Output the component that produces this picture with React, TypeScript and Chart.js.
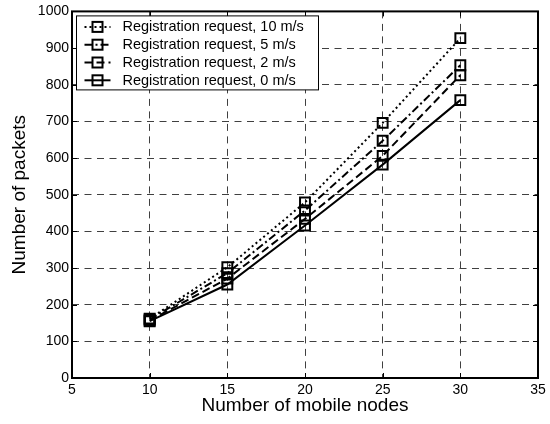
import React, { useEffect, useRef } from "react";
import { Chart, registerables } from "chart.js";

Chart.register(...registerables);

const nodes = [10, 15, 20, 25, 30];
const req10 = [162, 302, 479, 696, 927];
const req5 = [160, 286, 457, 647, 853];
const req2 = [157, 271, 434, 606, 826];
const req0 = [155, 255, 416, 582, 758];

const seriesLabels = [
  "Registration request, 10 m/s",
  "Registration request, 5 m/s",
  "Registration request, 2 m/s",
  "Registration request, 0 m/s",
];
const seriesDashes: number[][] = [[2, 3], [8, 3, 2, 3], [8, 4], []];

const xTitle = "Number of mobile nodes";
const yTitle = "Number of packets";

const FONT = "'Liberation Sans', Arial, Helvetica, sans-serif";

const framePlugin = {
  id: "matlabFrame",
  afterDraw(chart: any) {
    const ctx = chart.ctx;
    const { left, right, top, bottom } = chart.chartArea;
    const xs = chart.scales.x;
    const ys = chart.scales.y;
    ctx.save();
    ctx.strokeStyle = "#000";
    ctx.lineWidth = 1;
    ctx.setLineDash([]);
    const tl = 5;
    xs.ticks.forEach((t: any) => {
      const px = Math.round(xs.getPixelForValue(t.value)) + 0.5;
      ctx.beginPath();
      ctx.moveTo(px, bottom);
      ctx.lineTo(px, bottom - tl);
      ctx.moveTo(px, top);
      ctx.lineTo(px, top + tl);
      ctx.stroke();
    });
    ys.ticks.forEach((t: any) => {
      const py = Math.round(ys.getPixelForValue(t.value)) + 0.5;
      ctx.beginPath();
      ctx.moveTo(left, py);
      ctx.lineTo(left + tl, py);
      ctx.moveTo(right, py);
      ctx.lineTo(right - tl, py);
      ctx.stroke();
    });
    ctx.lineWidth = 2;
    ctx.strokeRect(left, top, right - left, bottom - top);

    // legend
    const bx = left + 4.5;
    const by = top + 4.5;
    const bw = 242;
    const bh = 74;
    ctx.fillStyle = "#fff";
    ctx.fillRect(bx, by, bw, bh);
    ctx.lineWidth = 1;
    ctx.strokeRect(bx, by, bw, bh);
    ctx.font = `14.5px ${FONT}`;
    ctx.textBaseline = "middle";
    ctx.textAlign = "left";
    chart.data.datasets.forEach((ds: any, i: number) => {
      const ry = by + 11 + i * 17.8;
      ctx.strokeStyle = "#000";
      ctx.lineWidth = 2;
      ctx.setLineDash(ds.borderDash || []);
      ctx.beginPath();
      ctx.moveTo(bx + 8, ry);
      ctx.lineTo(bx + 34, ry);
      ctx.stroke();
      ctx.setLineDash([]);
      ctx.strokeRect(bx + 21 - 5, ry - 5, 10, 10);
      ctx.fillStyle = "#000";
      ctx.fillText(ds.label, bx + 46, ry + 0.5);
    });
    ctx.restore();
  },
};

export default function App() {
  const ref = useRef<HTMLCanvasElement>(null);
  useEffect(() => {
    if (!ref.current) return;
    const seriesValues = [req10, req5, req2, req0];
    const chart = new Chart(ref.current, {
      type: "line",
      data: {
        datasets: seriesValues.map((vals, i) => ({
          label: seriesLabels[i],
          data: nodes.map((n, j) => ({ x: n, y: vals[j] })),
          borderColor: "#000",
          borderWidth: 2,
          borderDash: seriesDashes[i],
          pointStyle: "rect",
          pointRadius: 7,
          pointBorderWidth: 2,
          pointBorderColor: "#000",
          pointBackgroundColor: "rgba(0,0,0,0)",
          fill: false,
          tension: 0,
        })),
      },
      options: {
        animation: false,
        responsive: false,
        devicePixelRatio: 1,
        layout: { padding: { left: 0, right: 12, top: 10, bottom: 0 } },
        plugins: { legend: { display: false }, tooltip: { enabled: false } },
        scales: {
          x: {
            type: "linear",
            min: 5,
            max: 35,
            afterFit: (s: any) => {
              s.height = 46;
            },
            ticks: {
              stepSize: 5,
              color: "#000",
              padding: 4,
              font: { family: FONT, size: 14 },
              maxRotation: 0,
              callback: (v: any) => String(v),
            },
            grid: {
              drawTicks: false,
              lineWidth: 1,
              color: (c: any) =>
                c.tick && (c.tick.value === 5 || c.tick.value === 35)
                  ? "rgba(0,0,0,0)"
                  : "#404040",
            },
            border: { display: false, dash: [7, 5.5] },
            title: {
              display: true,
              text: xTitle,
              color: "#000",
              font: { family: FONT, size: 19 },
              padding: { top: 0, bottom: 7 },
            },
          },
          y: {
            type: "linear",
            min: 0,
            max: 1000,
            afterFit: (s: any) => {
              s.width = 72;
            },
            ticks: {
              stepSize: 100,
              color: "#000",
              padding: 3,
              font: { family: FONT, size: 14 },
              callback: (v: any) => String(v),
            },
            grid: {
              drawTicks: false,
              lineWidth: 1,
              color: (c: any) =>
                c.tick && (c.tick.value === 0 || c.tick.value === 1000)
                  ? "rgba(0,0,0,0)"
                  : "#404040",
            },
            border: { display: false, dash: [7, 5.5] },
            title: {
              display: true,
              text: yTitle,
              color: "#000",
              font: { family: FONT, size: 19 },
              padding: { top: 8, bottom: 0 },
            },
          },
        },
      },
      plugins: [framePlugin],
    });
    return () => chart.destroy();
  }, []);
  return (
    <div style={{ position: "absolute", left: 0, top: 0, width: 550, height: 424, background: "#fff" }}>
      <canvas ref={ref} width={550} height={424} />
    </div>
  );
}
